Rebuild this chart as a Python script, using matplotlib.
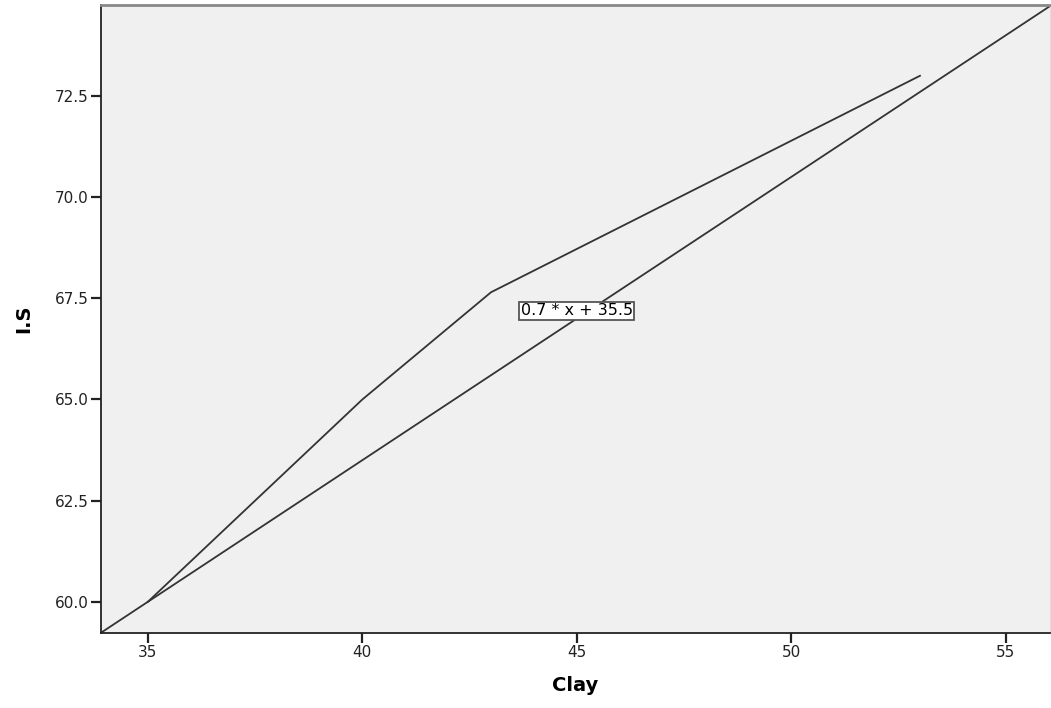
import matplotlib
matplotlib.use("Agg")
import matplotlib.pyplot as plt
import numpy as np

# Clay vs I.S observed line and fitted linear equation
clay = [35, 40, 43, 53]
i_s = [60.0, 65.0, 67.65, 73.0]
fit_slope = 0.7
fit_intercept = 35.5
fit_label = "0.7 * x + 35.5"

x_ticks = [35, 40, 45, 50, 55]
y_ticks = [60.0, 62.5, 65.0, 67.5, 70.0, 72.5]

fig = plt.figure(figsize=(10.51, 7.08), dpi=100)
ax = fig.add_axes([0.0958, 0.106, 0.9032, 0.887])
ax.set_facecolor("#f0f0f0")

xmin, xmax = 33.9, 56.03
ax.set_xlim(xmin, xmax)
ax.set_ylim(59.23, 74.75)

ax.plot(clay, i_s, color="#333333", lw=1.3)

fx = np.array([xmin, xmax])
ax.plot(fx, fit_slope * fx + fit_intercept, color="#333333", lw=1.3)

ax.text(45, 67.19, fit_label, ha="center", va="center", fontsize=11.5,
        bbox=dict(boxstyle="square,pad=0.08", fc="white", ec="#555555", lw=1.3))

ax.set_xticks(x_ticks)
ax.set_yticks(y_ticks)
ax.set_yticklabels([f"{v:.1f}" for v in y_ticks])
ax.tick_params(direction="out", length=7, width=1.6, pad=1.5, labelsize=11,
               colors="#222222")

for s in ["left", "bottom"]:
    ax.spines[s].set_color("#222222")
    ax.spines[s].set_linewidth(1.3)
ax.spines["top"].set_color("#888888")
ax.spines["top"].set_linewidth(2)
ax.spines["right"].set_color("#dddddd")

ax.set_xlabel("Clay", fontsize=14, fontweight="bold", labelpad=12)
ax.set_ylabel("I.S", fontsize=14, fontweight="bold", labelpad=16)

fig.savefig("out.png", dpi=100)
